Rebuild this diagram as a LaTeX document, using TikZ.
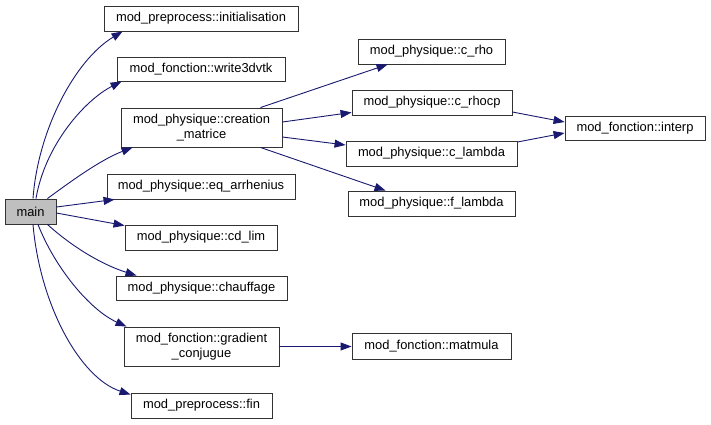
\documentclass[tikz,border=0pt]{standalone}
\usepackage{fontspec}
\setmainfont{Liberation Sans}
\usetikzlibrary{arrows.meta,calc}
\definecolor{edgeblue}{HTML}{191970}
\definecolor{maingray}{HTML}{BFBFBF}
\begin{document}
\begin{tikzpicture}[x=1pt,y=-1pt,
  box/.style={draw=black!80,line width=0.9pt,fill=white,inner sep=0pt,align=center,font=\fontsize{12.9}{15.5}\selectfont},
  edge/.style={draw=edgeblue,line width=0.9pt,-{Triangle[length=11pt,width=8pt]}}]
\useasboundingbox (0,0) rectangle (711,424);
\node[box,fill=maingray,minimum width=51pt,minimum height=25pt] (main) at (30.5,211.5) {main};
\node[box,minimum width=194pt,minimum height=25pt] (init) at (201,18.5) {mod\_preprocess::initialisation};
\node[box,minimum width=168pt,minimum height=24pt] (write) at (201,69) {mod\_fonction::write3dvtk};
\node[box,minimum width=161pt,minimum height=39pt] (creation) at (201.5,127.5) {mod\_physique::creation\\\_matrice};
\node[box,minimum width=188pt,minimum height=25pt] (eq) at (201,186.5) {mod\_physique::eq\_arrhenius};
\node[box,minimum width=152pt,minimum height=25pt] (cd) at (201,237.5) {mod\_physique::cd\_lim};
\node[box,minimum width=171pt,minimum height=24pt] (chauff) at (201.5,288) {mod\_physique::chauffage};
\node[box,minimum width=155pt,minimum height=39pt] (grad) at (201.5,346.5) {mod\_fonction::gradient\\\_conjugue};
\node[box,minimum width=141pt,minimum height=25pt] (fin) at (201.5,405.5) {mod\_preprocess::fin};
\node[box,minimum width=147pt,minimum height=25pt] (crho) at (431.5,51.5) {mod\_physique::c\_rho};
\node[box,minimum width=160pt,minimum height=25pt] (crhocp) at (432,102.5) {mod\_physique::c\_rhocp};
\node[box,minimum width=171pt,minimum height=25pt] (clambda) at (431.5,153.5) {mod\_physique::c\_lambda};
\node[box,minimum width=167pt,minimum height=25pt] (flambda) at (431.5,203.5) {mod\_physique::f\_lambda};
\node[box,minimum width=140pt,minimum height=24pt] (interp) at (635,128) {mod\_fonction::interp};
\node[box,minimum width=159pt,minimum height=26pt] (matmula) at (431.5,346.5) {mod\_fonction::matmula};
% main edges
\draw[edge] ($(main.north)+(2.5,0)$) .. controls (38,130) and (75,60) .. ($(init.south west)+(19,0)$);
\draw[edge] ($(main.north)+(5.5,0)$) .. controls (45,145) and (85,100) .. ($(write.south west)+(5,0)$);
\draw[edge] ($(main.north east)+(-9,0)$) .. controls (70,182) and (100,160) .. ($(creation.south west)+(12,0)$);
\draw[edge] ($(main.east)+(0,-4.5)$) -- ($(eq.south west)+(8,0)$);
\draw[edge] ($(main.east)+(0,1.5)$) -- ($(cd.north west)+(0,1)$);
\draw[edge] ($(main.south east)+(-9,0)$) .. controls (70,245) and (100,264) .. ($(chauff.north west)+(21,0)$);
\draw[edge] ($(main.south)+(7.5,0)$) .. controls (55,268) and (90,310) .. ($(grad.north west)+(3,0)$);
\draw[edge] ($(main.south)+(2.5,0)$) .. controls (40,305) and (80,378) .. ($(fin.north west)+(0,2)$);
% creation edges
\draw[edge] ($(creation.north east)+(-22,0)$) -- ($(crho.south west)+(30,0)$);
\draw[edge] ($(creation.east)+(0,-5.5)$) -- ($(crhocp.south west)+(0,-3)$);
\draw[edge] ($(creation.east)+(0,9.5)$) -- ($(clambda.west)+(0,-8.5)$);
\draw[edge] ($(creation.south east)+(-22,0)$) -- ($(flambda.north west)+(38,0)$);
\draw[edge] ($(crhocp.east)+(0,9.5)$) -- ($(interp.west)+(0,-6)$);
\draw[edge] ($(clambda.east)+(0,-11.5)$) -- ($(interp.west)+(0,5)$);
\draw[edge] (grad.east) -- (matmula.west);
\end{tikzpicture}
\end{document}
